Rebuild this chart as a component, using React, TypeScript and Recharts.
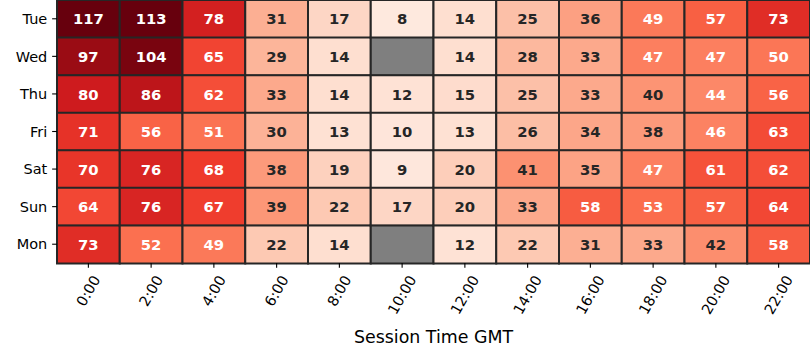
import React from 'react';
import { BarChart, Bar, XAxis, YAxis, Cell, LabelList } from 'recharts';

const days = ['Tue', 'Wed', 'Thu', 'Fri', 'Sat', 'Sun', 'Mon'];
const hours = ['0:00', '2:00', '4:00', '6:00', '8:00', '10:00', '12:00', '14:00', '16:00', '18:00', '20:00', '22:00'];

const tue: (number | null)[] = [117, 113, 78, 31, 17, 8, 14, 25, 36, 49, 57, 73];
const wed: (number | null)[] = [97, 104, 65, 29, 14, null, 14, 28, 33, 47, 47, 50];
const thu: (number | null)[] = [80, 86, 62, 33, 14, 12, 15, 25, 33, 40, 44, 56];
const fri: (number | null)[] = [71, 56, 51, 30, 13, 10, 13, 26, 34, 38, 46, 63];
const sat: (number | null)[] = [70, 76, 68, 38, 19, 9, 20, 41, 35, 47, 61, 62];
const sun: (number | null)[] = [64, 76, 67, 39, 22, 17, 20, 33, 58, 53, 57, 64];
const mon: (number | null)[] = [73, 52, 49, 22, 14, null, 12, 22, 31, 33, 42, 58];

const grid = [tue, wed, thu, fri, sat, sun, mon];

const REDS = ['#fff5f0', '#fee0d2', '#fcbba1', '#fc9272', '#fb6a4a', '#ef3b2c', '#cb181d', '#a50f15', '#67000d'];
const VMIN = 0;
const VMAX = 108;
const MISSING = '#7f7f7f';
const FONT = 'DejaVu Sans';

function hexToRgb(h: string): number[] {
  return [parseInt(h.slice(1, 3), 16), parseInt(h.slice(3, 5), 16), parseInt(h.slice(5, 7), 16)];
}

function colorRgb(v: number): number[] {
  let t = (v - VMIN) / (VMAX - VMIN);
  t = Math.max(0, Math.min(1, t));
  const pos = t * (REDS.length - 1);
  const i = Math.min(REDS.length - 2, Math.floor(pos));
  const f = pos - i;
  const a = hexToRgb(REDS[i]);
  const b = hexToRgb(REDS[i + 1]);
  return a.map((c, k) => Math.round(c + (b[k] - c) * f));
}

function rgbStr(c: number[]) {
  return `rgb(${c[0]},${c[1]},${c[2]})`;
}

function lum(c: number[]) {
  const lin = c.map((x) => {
    const s = x / 255;
    return s <= 0.03928 ? s / 12.92 : Math.pow((s + 0.055) / 1.055, 2.4);
  });
  return 0.2126 * lin[0] + 0.7152 * lin[1] + 0.0722 * lin[2];
}

const rows = days.map((d, r) => {
  const row: Record<string, any> = { day: d };
  hours.forEach((_, c) => {
    row[`u${c}`] = 1;
    row[`v${c}`] = grid[r][c];
  });
  return row;
});

const xTicks = hours.map((_, i) => i + 0.5);

const FS = 14.5;
const AFS = 14.8;

function textWidth(s: string) {
  let w = 0;
  for (const ch of s) w += ch === ':' ? 0.337 : 0.636;
  return w * FS;
}

const XTick = (props: any) => {
  const { x, y, payload } = props;
  const idx = Math.round(payload.value - 0.5);
  const label = hours[idx] ?? '';
  const L = textWidth(label);
  const cy = y + L * 0.433 + 4;
  return (
    <text
      x={0}
      y={0}
      transform={`translate(${x},${cy}) rotate(-60)`}
      textAnchor="middle"
      dominantBaseline="central"
      fontFamily={FONT}
      fontSize={FS}
      fill="#000"
    >
      {label}
    </text>
  );
};

const YTick = (props: any) => {
  const { x, y, payload } = props;
  return (
    <text x={x} y={y + FS * 0.36} textAnchor="end" fontFamily={FONT} fontSize={FS} fill="#000">
      {payload.value}
    </text>
  );
};

const makeLabel = (c: number) => (p: any) => {
  const { x, y, width, height, index } = p;
  const v = grid[index]?.[c];
  if (v === null || v === undefined) return null;
  const col = colorRgb(v);
  const fill = lum(col) > 0.408 ? '#262626' : '#ffffff';
  return (
    <text
      x={x + width / 2}
      y={y + height / 2 + AFS * 0.365}
      textAnchor="middle"
      fontFamily={FONT}
      fontWeight="bold"
      fontSize={AFS}
      fill={fill}
    >
      {v}
    </text>
  );
};

export default function App() {
  return (
    <div style={{ position: 'absolute', left: 0, top: 0, width: 810, height: 360, background: '#fff' }}>
      <BarChart
        width={810}
        height={360}
        data={rows}
        layout="vertical"
        margin={{ top: 0, right: 0, bottom: 0, left: 0 }}
        barCategoryGap={0}
        style={{ fontFamily: FONT }}
      >
        <XAxis
          type="number"
          domain={[0, 12]}
          ticks={xTicks}
          interval={0}
          height={97}
          axisLine={false}
          tickSize={4.86}
          tickMargin={4.86}
          tickLine={{ stroke: '#000', strokeWidth: 1.1 }}
          tick={<XTick />}
          label={{
            value: 'Session Time GMT',
            position: 'insideBottom',
            offset: 17,
            fontSize: 17.4,
            fill: '#000',
            fontFamily: FONT,
          }}
        />
        <YAxis
          type="category"
          dataKey="day"
          width={57}
          axisLine={false}
          tickSize={4.86}
          tickMargin={4.86}
          tickLine={{ stroke: '#000', strokeWidth: 1.1 }}
          tick={<YTick />}
          interval={0}
        />
        {hours.map((h, c) => (
          <Bar key={h} dataKey={`u${c}`} stackId="s" isAnimationActive={false}>
            {rows.map((_, r) => {
              const v = grid[r][c];
              const fill = v === null ? MISSING : rgbStr(colorRgb(v));
              return <Cell key={r} fill={fill} stroke="#262626" strokeWidth={2} />;
            })}
            <LabelList dataKey={`v${c}`} content={makeLabel(c)} />
          </Bar>
        ))}
      </BarChart>
    </div>
  );
}
